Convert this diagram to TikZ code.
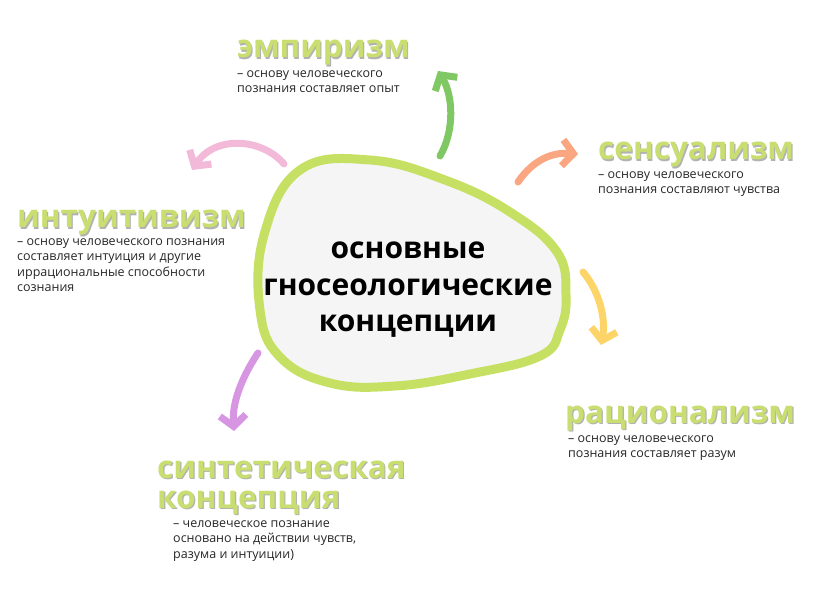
\documentclass[tikz,border=0pt]{standalone}
\usepackage{fontspec}
\setmainfont{Open Sans}
\usetikzlibrary{arrows.meta}

\definecolor{leaf}{RGB}{201,222,112}
\definecolor{blobline}{RGB}{198,224,100}
\definecolor{blobfill}{RGB}{245,245,245}
\definecolor{shade}{RGB}{178,178,178}
\definecolor{cEmp}{RGB}{128,200,100}
\definecolor{cSen}{RGB}{250,166,128}
\definecolor{cInt}{RGB}{242,186,216}
\definecolor{cRat}{RGB}{253,212,104}
\definecolor{cSyn}{RGB}{214,150,226}

\tikzset{
  head/.style={anchor=base west, inner sep=0pt, font=\bfseries\fontsize{31.5}{31.5}\selectfont, text=leaf},
  headshade/.style={head, text=shade},
  desc/.style={anchor=north west, inner sep=0pt, align=left, font=\fontsize{12.5}{15.6}\selectfont, text=black!85},
  brush/.style={line width=7pt, line cap=round, line join=round, -{Straight Barb[length=11pt,width=26pt]}},
}

\begin{document}
\begin{tikzpicture}[x=1pt,y=-1pt]
\useasboundingbox (0,0) rectangle (826,609);
% the blob in the middle
\draw[line width=9pt, blobline, fill=blobfill] plot[smooth cycle, tension=0.7] coordinates
  {(300,170) (370,160) (445,180) (510,212) (557,252) (566,295) (560,330) (540,356)
   (470,374) (395,386) (330,383) (280,357) (260,310) (264,235)};
\node[anchor=center, align=center, font=\bfseries\fontsize{30}{36.5}\selectfont] (core) at (408,290)
  {основные\\гносеологические\\концепции};

% headings, each with a grey shadow under it
\node[headshade] at (238,59.3) {эмпиризм};
\node[head] (hEmp) at (236.8,58) {эмпиризм};
\node[headshade] at (599.2,161.3) {сенсуализм};
\node[head] (hSen) at (598,160) {сенсуализм};
\node[headshade] at (18.2,229.3) {интуитивизм};
\node[head] (hInt) at (17,228) {интуитивизм};
\node[headshade] at (566.2,424.3) {рационализм};
\node[head] (hRat) at (565,423) {рационализм};
\node[headshade] at (158.2,479.3) {синтетическая};
\node[head] (hSyn) at (157,478) {синтетическая};
\node[headshade] at (158.2,509.3) {концепция};
\node[head] (hSyn2) at (157,508) {концепция};

% the short explanations
\node[desc] (dEmp) at (237,70) {– основу человеческого\\познания составляет опыт};
\node[desc] (dSen) at (598,171) {– основу человеческого\\познания составляют чувства};
\node[desc] (dInt) at (17,238) {– основу человеческого познания\\составляет интуиция и другие\\иррациональные способности\\сознания};
\node[desc] (dRat) at (568,435) {– основу человеческого\\познания составляет разум};
\node[desc] (dSyn) at (173,520) {– человеческое познание\\основано на действии чувств,\\разума и интуиции)};

% ends of the brush arrows
\coordinate (empS) at (440,156);  \coordinate (empT) at (438,71);
\coordinate (senS) at (518,182);  \coordinate (senT) at (578,154);
\coordinate (intS) at (284,164);  \coordinate (intT) at (192,170);
\coordinate (ratS) at (583,272);  \coordinate (ratT) at (601,345);
\coordinate (synS) at (258,353);  \coordinate (synT) at (234,431);

\draw[brush, cEmp] (empS) .. controls (455,130) and (453,95) .. (empT);
\draw[brush, cSen] (senS) .. controls (533,160) and (552,152) .. (senT);
\draw[brush, cInt] (intS) .. controls (262,138) and (215,135) .. (intT);
\draw[brush, cRat] (ratS) .. controls (600,292) and (606,320) .. (ratT);
\draw[brush, cSyn] (synS) .. controls (240,380) and (232,405) .. (synT);
\end{tikzpicture}
\end{document}
